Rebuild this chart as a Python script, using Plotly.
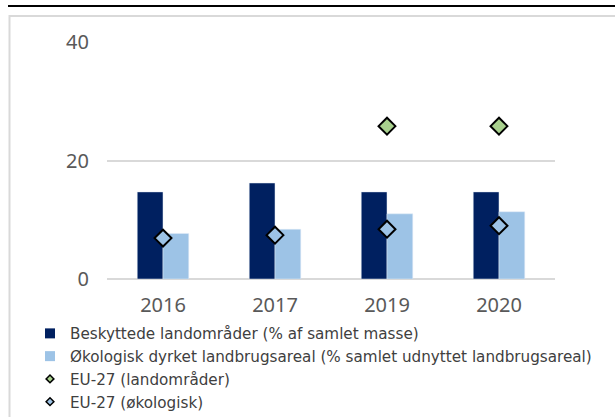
import plotly.graph_objects as go

years = ["2016", "2017", "2019", "2020"]
protected_land = [14.7, 16.2, 14.7, 14.7]
organic_area = [7.7, 8.4, 11.0, 11.35]
eu_land = [None, None, 25.8, 25.8]
eu_organic = [6.9, 7.4, 8.4, 9.0]
y_ticks = [0, 20, 40]

names = [
    "Beskyttede landområder (% af samlet masse)",
    "Økologisk dyrket landbrugsareal (% samlet udnyttet landbrugsareal)",
    "EU-27 (landområder)",
    "EU-27 (økologisk)",
]

DARK = "#002060"
LIGHT = "#9dc3e6"
GREEN = "#a9d18e"
GRID = "#d9d9d9"
FONT = "Noto Sans"
LEG_FONT = "DejaVu Sans"

W, H = 615, 417
L, R, T, B = 107, 60, 42, 138
PW, PH = W - L - R, H - T - B


def px(x):
    return (x - L) / PW


def py(y):
    return 1 - (y - T) / PH


fig = go.Figure()
fig.add_trace(go.Bar(x=years, y=protected_land, marker_color=DARK, showlegend=False, name=names[0]))
fig.add_trace(go.Bar(x=years, y=organic_area, marker_color=LIGHT, showlegend=False, name=names[1]))
fig.add_trace(go.Scatter(x=years, y=eu_land, mode="markers", showlegend=False, name=names[2],
                         marker=dict(symbol="diamond", size=13, color=GREEN, line=dict(color="black", width=2))))
fig.add_trace(go.Scatter(x=years, y=eu_organic, mode="markers", showlegend=False, name=names[3],
                         marker=dict(symbol="diamond", size=13, color=LIGHT, line=dict(color="black", width=2))))

# legend entries
leg_styles = [
    dict(symbol="square", size=10, color=DARK, line=dict(width=0)),
    dict(symbol="square", size=10, color=LIGHT, line=dict(width=0)),
    dict(symbol="diamond", size=6, color=GREEN, line=dict(color="black", width=1.5)),
    dict(symbol="diamond", size=6, color=LIGHT, line=dict(color="black", width=1.5)),
]
for n, st in zip(names, leg_styles):
    fig.add_trace(go.Scatter(x=[None], y=[None], mode="markers", name=n, marker=st, showlegend=True))

fig.update_layout(
    width=W, height=H,
    margin=dict(l=L, r=R, t=T, b=B, autoexpand=False),
    paper_bgcolor="white", plot_bgcolor="white",
    barmode="group", bargap=0.54, bargroupgap=0,
    font=dict(family=FONT, color="#595959"),
    xaxis=dict(type="category", showgrid=False, showline=False, ticks="",
               tickfont=dict(size=20, color="#595959"), ticklabelstandoff=12),
    yaxis=dict(range=[0, 40], tickvals=y_ticks, showgrid=True, gridcolor=GRID, gridwidth=1.5,
               zeroline=True, zerolinecolor=GRID, zerolinewidth=2, showline=False,
               tickfont=dict(size=20, color="#595959"), ticklabelstandoff=17),
    legend=dict(xref="container", yref="container", x=30 / W, y=1 - 317 / H,
                xanchor="left", yanchor="top", bgcolor="rgba(0,0,0,0)",
                font=dict(size=15.2, color="#404040", family=LEG_FONT), tracegroupgap=0),
    shapes=[
        dict(type="line", xref="paper", yref="paper", x0=px(8), x1=px(620), y0=py(6), y1=py(6),
             line=dict(color="black", width=2), layer="above"),
        dict(type="rect", xref="paper", yref="paper", x0=px(9.5), x1=px(640), y0=py(16), y1=py(440),
             line=dict(color=GRID, width=2), layer="below"),
    ],
)

fig.write_html("out.html", config={"displayModeBar": False},
               post_script="document.body.style.margin='0';")
